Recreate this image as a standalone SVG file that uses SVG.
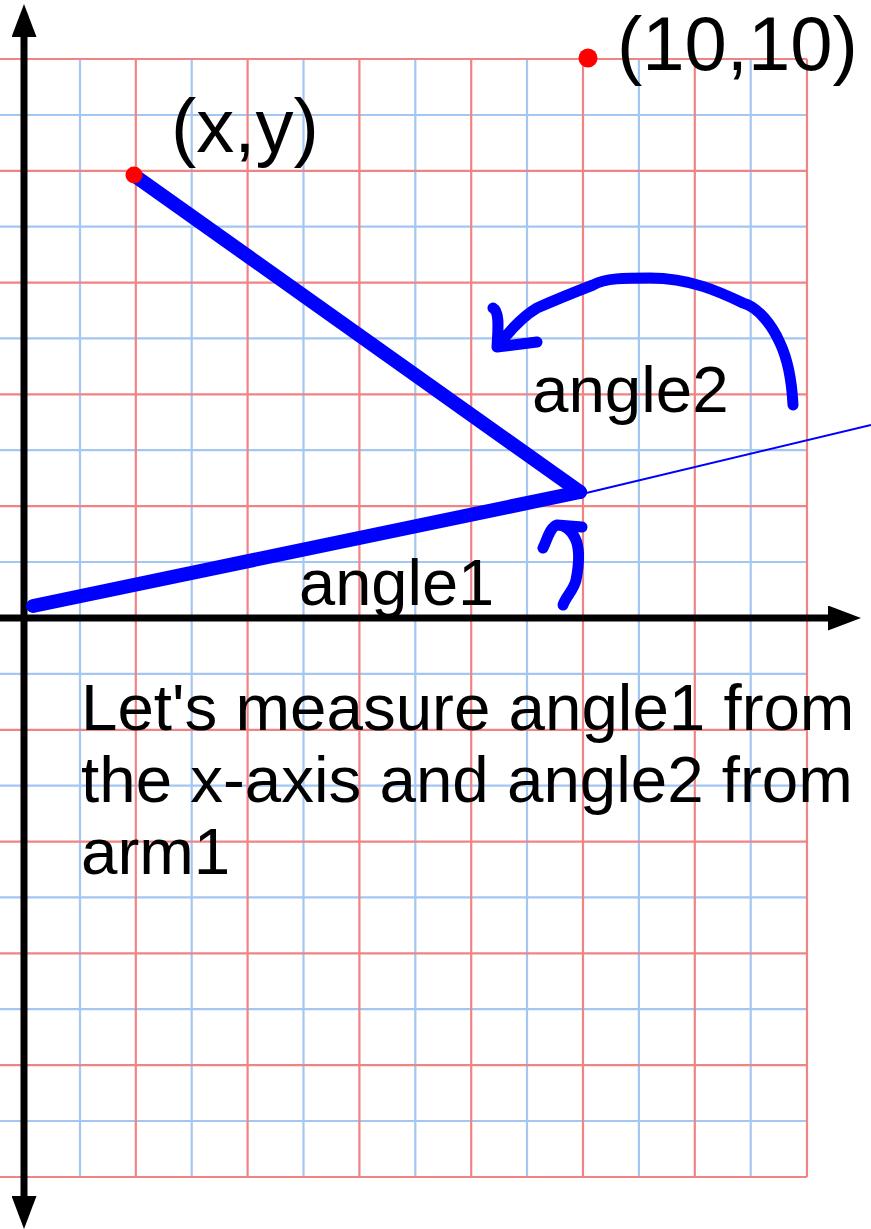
<svg xmlns="http://www.w3.org/2000/svg" width="871" height="1229" viewBox="0 0 871 1229">
<style>
.red{stroke:#f08484;stroke-width:2.2;fill:none}
.blu{stroke:#a4c6f2;stroke-width:2.2;fill:none}
.axis{stroke:#000;stroke-width:7;fill:none}
.arm{stroke:#0000ff;stroke-width:14;stroke-linecap:round;fill:none}
.ink{stroke:#0000ff;stroke-width:11;stroke-linecap:round;stroke-linejoin:round;fill:none}
.t{font-family:"Liberation Sans",Arial,sans-serif;fill:#000}
</style>
<defs>
<marker id="ah" viewBox="0 0 33 25" refX="0" refY="12.5" markerWidth="33" markerHeight="25" markerUnits="userSpaceOnUse" orient="auto-start-reverse">
<path d="M0,0 L33,12.5 L0,25 z" fill="#000"/>
</marker>
</defs>
<rect width="871" height="1229" fill="#fff"/>
<g id="grid">
<g class="blu">
<path d="M0,115H807M0,226.6H807M0,338.4H807M0,450.2H807M0,562H807M0,673.8H807M0,785.6H807M0,897.4H807M0,1009.2H807M0,1121H807"/>
<path d="M80,59V1177M191.7,59V1177M303.5,59V1177M415.3,59V1177M527,59V1177M638.9,59V1177M750.7,59V1177"/>
</g>
<g class="red">
<path d="M0,59H807M0,170.8H807M0,282.6H807M0,394.4H807M0,506.2H807M0,618H807M0,729.8H807M0,841.6H807M0,953.4H807M0,1065.2H807M0,1177H807"/>
<path d="M24,59V1177M135.8,59V1177M247.6,59V1177M359.4,59V1177M471.2,59V1177M583,59V1177M694.8,59V1177M807,59V1177"/>
</g>
</g>
<g id="connectors">
<line class="axis" x1="24" y1="37" x2="24" y2="1196" marker-start="url(#ah)" marker-end="url(#ah)"/>
<line class="axis" x1="0" y1="618" x2="828" y2="618" marker-end="url(#ah)"/>
<line id="arm1-ext" x1="582" y1="494" x2="871" y2="425" stroke="#0000ff" stroke-width="2"/>
<line id="arm1" class="arm" x1="33" y1="606" x2="580" y2="492"/>
<line id="arm2" class="arm" x1="135" y1="176" x2="580" y2="492"/>
<path id="angle2-arrow" class="ink" d="M793,405 C792,385 788,360 780,343 C772,325 758,307 743,303 C720,292 690,278 650,278 C625,278 605,278 593,285 C575,292 555,300 537,308 C525,315 510,330 497,347 M493,308 C500,312 498,330 497,347 L537,342"/>
<path id="angle1-arrow" class="ink" d="M563,605 C566,596 574,590 576,580 C579,565 580,548 575,538 C571,530 564,525 557,525 C550,527 547,540 543,548 M557,525 L582,527"/>
</g>
<g id="point-xy">
<circle cx="134" cy="175" r="8.5" fill="#ff0000"/>
<text class="t" x="171" y="152" font-size="76">(x,y)</text>
</g>
<g id="point-10-10">
<circle cx="588" cy="58" r="9.5" fill="#ff0000"/>
<text class="t" x="617" y="70" font-size="76">(10,10)</text>
</g>
<g id="label-angle2">
<text class="t" x="532" y="412" font-size="65.5">angle2</text>
</g>
<g id="label-angle1">
<text class="t" x="299" y="605" font-size="65">angle1</text>
</g>
<g id="note">
<text class="t" font-size="65.5"><tspan x="81" y="730">Let's measure angle1 from</tspan><tspan x="81" y="802">the x-axis and angle2 from</tspan><tspan x="81" y="874">arm1</tspan></text>
</g>
</svg>
